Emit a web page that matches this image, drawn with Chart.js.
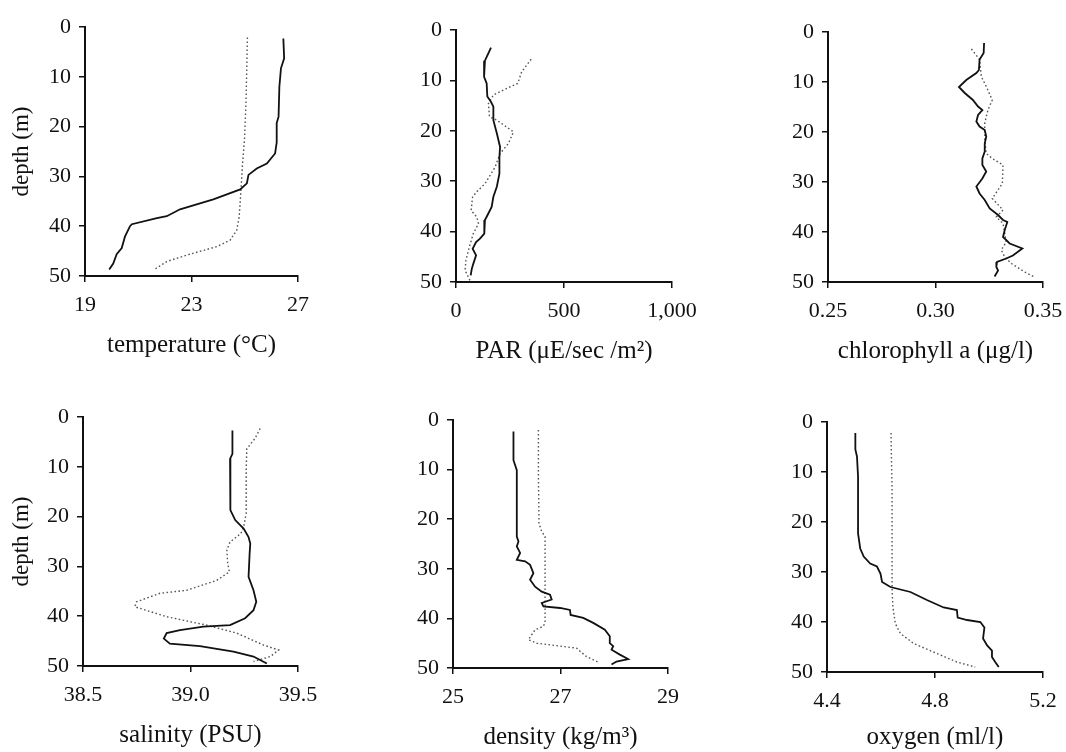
<!DOCTYPE html>
<html>
<head>
<meta charset="utf-8">
<script src="https://cdn.jsdelivr.net/npm/chart.js@4.4.1/dist/chart.umd.min.js"></script>
<style>
  html, body { margin: 0; padding: 0; background: #fff; }
  body { width: 1066px; height: 752px; position: relative; overflow: hidden; }
  canvas { position: absolute; }
</style>
</head>
<body>
<script>
// ---------------- DATA ----------------
const depthTicks = [0, 10, 20, 30, 40, 50];

const tempTicks = [19, 23, 27];
const tempTickLabels = ['19', '23', '27'];
const tempSolidDepth = [2.3, 6.3, 8.3, 12, 18, 19.3, 23.2, 25.4, 27.4, 28.4, 29.7, 31.4, 32.6, 34.6, 36.6, 38, 38.4, 39.6, 40, 42.1, 44.4, 45.6, 47.5, 48.7];
const tempSolid = [26.45, 26.48, 26.36, 26.3, 26.27, 26.2, 26.2, 26.14, 25.83, 25.45, 25.14, 25.08, 24.83, 23.82, 22.57, 22.07, 21.7, 20.76, 20.69, 20.5, 20.38, 20.19, 20.06, 19.91];
const tempDotDepth = [2.1, 14.7, 22.7, 28, 33.4, 38.1, 40.8, 42.8, 44.1, 45.8, 47.1, 48.8];
const tempDot = [25.1, 25.05, 24.99, 24.91, 24.85, 24.79, 24.7, 24.45, 23.95, 22.82, 22.07, 21.57];

const parTicks = [0, 500, 1000];
const parTickLabels = ['0', '500', '1,000'];
const parSolidDepth = [3.5, 6.1, 9.3, 10.6, 13.2, 14.2, 15.2, 17.9, 20.5, 23.2, 25.2, 28.5, 31.1, 33.1, 35.1, 36.8, 37.7, 40.4, 41.4, 42.1, 43.4, 44.7, 46.4, 47.4, 48.7];
const parSolid = [162, 134, 130, 142, 145, 161, 173, 173, 189, 204, 201, 201, 189, 173, 165, 145, 134, 131, 111, 93, 77, 93, 80, 73, 68];
const parDotDepth = [5.8, 8.3, 10.6, 11.3, 12.9, 14.6, 17.2, 17.9, 20.2, 22.5, 24.5, 27.2, 30.5, 32.1, 33.1, 35.8, 37.1, 38.4, 40.4, 43, 45.7, 47.7, 49.7];
const parDot = [348, 304, 286, 250, 173, 150, 155, 189, 266, 243, 204, 181, 134, 96, 77, 70, 96, 104, 80, 62, 46, 42, 65];

const chlTicks = [0.25, 0.30, 0.35];
const chlTickLabels = ['0.25', '0.30', '0.35'];
const chlSolidDepth = [2.2, 4.2, 5.5, 7.6, 8.2, 9.6, 11, 12.2, 13.6, 14.9, 15.6, 16.6, 17.9, 18.9, 19.6, 20.9, 22.3, 23.9, 25.3, 26.6, 27.9, 29.3, 30.9, 32.3, 33.6, 35.3, 36.6, 37.6, 38, 39.6, 41, 42.3, 43.3, 44.7, 45.3, 46, 47, 47.7, 48.9];
const chlSolid = [0.3226, 0.3224, 0.3205, 0.3202, 0.319, 0.3143, 0.3109, 0.3136, 0.3174, 0.3198, 0.3218, 0.3198, 0.319, 0.3205, 0.3229, 0.3236, 0.3229, 0.3229, 0.3218, 0.3218, 0.3236, 0.3218, 0.319, 0.3205, 0.3229, 0.3252, 0.3291, 0.3314, 0.3334, 0.3322, 0.3314, 0.3345, 0.3404, 0.336, 0.3329, 0.3286, 0.3283, 0.3291, 0.3275];
const chlDotDepth = [3.4, 5.5, 8.9, 10.9, 13.6, 15.6, 18.2, 21.6, 24.3, 25.3, 26.6, 30.3, 33.3, 35.6, 37, 38.3, 40.3, 42, 43.6, 45, 46.3, 48, 49];
const chlDot = [0.3167, 0.3205, 0.3213, 0.3236, 0.3264, 0.3244, 0.3229, 0.3229, 0.3236, 0.3264, 0.3314, 0.3311, 0.3264, 0.3314, 0.3283, 0.3314, 0.3322, 0.3329, 0.3306, 0.3322, 0.3353, 0.3415, 0.3461];

const salTicks = [38.5, 39.0, 39.5];
const salTickLabels = ['38.5', '39.0', '39.5'];
const salSolidDepth = [2.7, 7.4, 8.4, 13.4, 18.7, 20.7, 22.4, 24.1, 25.4, 27.4, 32.1, 34.8, 37.1, 38.8, 40.4, 41.8, 42.1, 42.8, 43.4, 44.5, 45.5, 46, 47.1, 48.1, 49.5];
const salSolid = [39.195, 39.195, 39.184, 39.184, 39.187, 39.208, 39.247, 39.27, 39.278, 39.275, 39.27, 39.293, 39.306, 39.293, 39.254, 39.184, 39.06, 38.951, 38.889, 38.876, 38.904, 39.044, 39.2, 39.293, 39.355];
const salDotDepth = [2.3, 4.3, 6.4, 10.7, 19.4, 22.1, 23.4, 25.1, 26.7, 29.4, 31.1, 32.8, 34.8, 35.4, 37.1, 38.1, 40.1, 41.8, 43.4, 45.8, 46.8, 48.1, 49.1];
const salDot = [39.324, 39.3, 39.262, 39.259, 39.259, 39.247, 39.234, 39.184, 39.169, 39.173, 39.181, 39.122, 38.982, 38.858, 38.749, 38.741, 38.889, 39.075, 39.215, 39.34, 39.41, 39.371, 39.293];

const denTicks = [25, 27, 29];
const denTickLabels = ['25', '27', '29'];
const denSolidDepth = [2.3, 8.1, 10.1, 14.1, 23.5, 24.5, 25.5, 26.8, 28.2, 28.5, 29.2, 30.9, 32.2, 33.6, 34.6, 35.2, 36.2, 36.9, 37.6, 37.9, 38.3, 39.3, 39.9, 40.9, 42.3, 43.6, 45, 45.6, 46.3, 47.3, 48.2, 48.7, 49.3];
const denSolid = [26.125, 26.125, 26.187, 26.187, 26.187, 26.218, 26.187, 26.249, 26.187, 26.342, 26.434, 26.496, 26.434, 26.527, 26.651, 26.805, 26.836, 26.651, 26.682, 26.991, 27.176, 27.188, 27.423, 27.609, 27.825, 27.917, 27.917, 27.98, 27.95, 28.104, 28.258, 28.042, 27.949];
const denDotDepth = [2, 10.7, 20.8, 22.5, 23.5, 40.9, 41.6, 42.3, 44.3, 45, 46, 46.6, 47.7, 48.9];
const denDot = [26.589, 26.589, 26.6, 26.65, 26.713, 26.713, 26.68, 26.527, 26.403, 26.558, 27.3, 27.36, 27.485, 27.72];

const oxyTicks = [4.4, 4.8, 5.2];
const oxyTickLabels = ['4.4', '4.8', '5.2'];
const oxySolidDepth = [2.2, 5.5, 6.9, 10.9, 22.3, 25.3, 26.9, 28.3, 28.9, 30.3, 32, 33, 34, 35.6, 37.1, 37.6, 39.1, 39.6, 40, 41.1, 43.3, 44.7, 45.7, 47, 48, 49];
const oxySolid = [4.505, 4.505, 4.511, 4.515, 4.515, 4.523, 4.536, 4.56, 4.585, 4.598, 4.604, 4.635, 4.709, 4.77, 4.832, 4.881, 4.884, 4.919, 4.968, 4.983, 4.978, 4.993, 5.011, 5.011, 5.023, 5.036];
const oxyDotDepth = [2.2, 13.6, 26.9, 33.6, 37, 40.3, 42.3, 44.3, 46.3, 48, 49];
const oxyDot = [4.637, 4.641, 4.641, 4.641, 4.644, 4.653, 4.672, 4.721, 4.807, 4.881, 4.949];

// ---------------- LAYOUT / STYLE ----------------
const FONT = "'Liberation Serif', 'Times New Roman', serif";
const panels = [
  { title: 'temperature (\u00B0C)', ticks: tempTicks, labels: tempTickLabels, s: [tempSolid, tempSolidDepth], d: [tempDot, tempDotDepth], ytitle: true,
    left: 0, top: 0, w: 343, h: 360, yw: 85, padT: 27, padR: 45 },
  { title: 'PAR (\u03BCE/sec /m\u00B2)', ticks: parTicks, labels: parTickLabels, s: [parSolid, parSolidDepth], d: [parDot, parDotDepth], ytitle: false,
    left: 386, top: 0, w: 331, h: 366, yw: 70, padT: 30, padR: 45 },
  { title: 'chlorophyll a (\u03BCg/l)', ticks: chlTicks, labels: chlTickLabels, s: [chlSolid, chlSolidDepth], d: [chlDot, chlDotDepth], ytitle: false,
    left: 758, top: 0, w: 330, h: 366, yw: 70, padT: 32, padR: 45 },
  { title: 'salinity (PSU)', ticks: salTicks, labels: salTickLabels, s: [salSolid, salSolidDepth], d: [salDot, salDotDepth], ytitle: true,
    left: 0, top: 376, w: 343, h: 374, yw: 83, padT: 41, padR: 45 },
  { title: 'density (kg/m\u00B3)', ticks: denTicks, labels: denTickLabels, s: [denSolid, denSolidDepth], d: [denDot, denDotDepth], ytitle: false,
    left: 383, top: 376, w: 330, h: 376, yw: 70, padT: 44, padR: 45 },
  { title: 'oxygen (ml/l)', ticks: oxyTicks, labels: oxyTickLabels, s: [oxySolid, oxySolidDepth], d: [oxyDot, oxyDotDepth], ytitle: false,
    left: 757, top: 376, w: 331, h: 376, yw: 70, padT: 46, padR: 45, xh: 80 }
];

function pts(vals, depths) { return vals.map((v, i) => ({ x: v, y: depths[i] })); }

panels.forEach(p => {
  const cv = document.createElement('canvas');
  cv.width = p.w; cv.height = p.h;
  cv.style.left = p.left + 'px'; cv.style.top = p.top + 'px';
  cv.style.width = p.w + 'px'; cv.style.height = p.h + 'px';
  document.body.appendChild(cv);
  const xh = p.xh || 84;
  new Chart(cv.getContext('2d'), {
    type: 'scatter',
    data: {
      datasets: [
        { data: pts(p.s[0], p.s[1]), showLine: true, borderColor: '#111', borderWidth: 1.8, pointRadius: 0, fill: false, tension: 0 },
        { data: pts(p.d[0], p.d[1]), showLine: true, borderColor: '#555', borderWidth: 1.4, borderDash: [1.6, 2.4], pointRadius: 0, fill: false, tension: 0 }
      ]
    },
    options: {
      responsive: false, animation: false, devicePixelRatio: 1,
      layout: { padding: { left: 0, top: p.padT, right: p.padR, bottom: 0 } },
      plugins: { legend: { display: false }, tooltip: { enabled: false }, title: { display: false } },
      scales: {
        x: {
          type: 'linear', position: 'bottom',
          min: p.ticks[0], max: p.ticks[p.ticks.length - 1],
          afterBuildTicks: s => { s.ticks = p.ticks.map(v => ({ value: v })); },
          afterFit: s => { s.height = xh; },
          ticks: { callback: (v, i) => p.labels[i], color: '#111', font: { family: FONT, size: 22 }, padding: 10, maxRotation: 0, autoSkip: false },
          grid: { display: true, drawOnChartArea: false, drawTicks: true, tickLength: 6, color: '#111', lineWidth: 1.5 },
          border: { display: true, color: '#111', width: 2 },
          title: { display: true, text: p.title, color: '#111', font: { family: FONT, size: 25 }, padding: 0 }
        },
        y: {
          type: 'linear', position: 'left', reverse: true,
          min: 0, max: 50,
          afterBuildTicks: s => { s.ticks = depthTicks.map(v => ({ value: v })); },
          afterFit: s => { s.width = p.yw; },
          ticks: { color: '#111', font: { family: FONT, size: 22 }, padding: 8, autoSkip: false },
          grid: { display: true, drawOnChartArea: false, drawTicks: true, tickLength: 6, color: '#111', lineWidth: 1.5 },
          border: { display: true, color: '#111', width: 2 },
          title: { display: p.ytitle, text: 'depth (m)', color: '#111', font: { family: FONT, size: 23 }, padding: { top: 8, bottom: 0 } }
        }
      }
    }
  });
});
</script>
</body>
</html>
